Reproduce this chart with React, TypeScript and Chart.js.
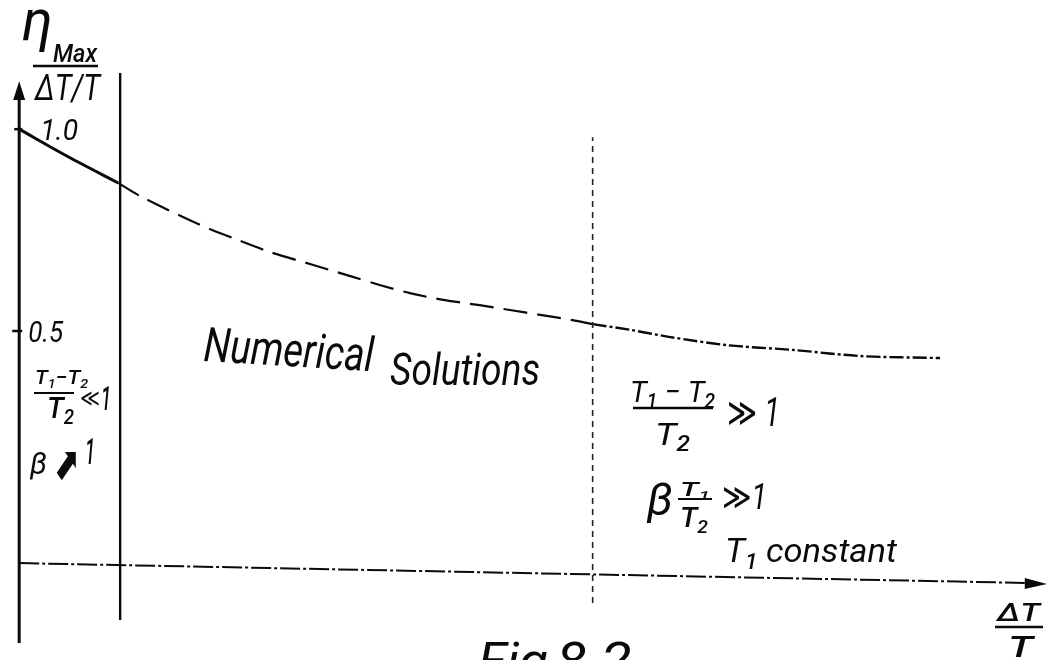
import React, { useEffect, useRef } from "react";
import { Chart, registerables } from "chart.js";

Chart.register(...registerables);

// Regime boundaries along ΔT/T
const BOUNDARY_SMALL = 1.0;
const BOUNDARY_LARGE = 5.68;

// Small temperature-difference branch (analytic, solid)
const NEAR_X = [0, 0.49, 0.98];
const NEAR_Y = [1.0, 0.931, 0.867];

// Numerical solutions (dashed)
const NUM_X = [0.98, 1.2, 1.79, 2.14, 2.48, 2.88, 3.28, 3.57, 3.87, 4.2, 4.56, 4.86, 5.16, 5.48, 5.68];
const NUM_Y = [0.867, 0.834, 0.763, 0.728, 0.696, 0.666, 0.636, 0.614, 0.594, 0.577, 0.564, 0.552, 0.54, 0.527, 0.517];

// Large temperature-difference branch (analytic, fine line)
const FAR_X = [5.68, 6.05, 6.45, 7.01, 7.67, 8.33, 9.12];
const FAR_Y = [0.517, 0.503, 0.485, 0.465, 0.453, 0.438, 0.433];

// Axis ticks
const Y_TICKS = [1.0, 0.5];
const Y_TICK_LABELS = ["1.0", "0.5"];

// Axis extents (data units)
const Y_AXIS_RANGE = [-0.273, 1.072];
const Y_ARROW_TIP = 1.119;
const X_AXIS_X = [0, 9.96];
const X_AXIS_Y = [-0.075, -0.124];
const X_ARROW_TIP = 10.18;
const SMALL_LINE_RANGE = [-0.216, 1.139];
const LARGE_LINE_RANGE = [-0.174, 0.98];

const FAMILY = 'Roboto, "DejaVu Sans", sans-serif';
const INK = "#0a0a0a";

type Part = { t: string; sub?: boolean };

function drawRich(
  ctx: CanvasRenderingContext2D,
  content: string | Part[],
  x: number,
  baseline: number,
  size: number,
  width?: number,
  angle = 0,
  weight = 400
) {
  const parts: Part[] = typeof content === "string" ? [{ t: content }] : content;
  const fontFor = (p: Part) =>
    `italic ${p.sub ? Math.max(weight, 500) : weight} ${p.sub ? size * 0.66 : size}px ${FAMILY}`;
  let total = 0;
  const widths = parts.map((p) => {
    ctx.font = fontFor(p);
    const w = ctx.measureText(p.t).width;
    total += w;
    return w;
  });
  const sx = width ? width / total : 1;
  ctx.save();
  ctx.translate(x, baseline);
  ctx.rotate(angle);
  ctx.scale(sx, 1);
  ctx.fillStyle = INK;
  ctx.textBaseline = "alphabetic";
  ctx.textAlign = "left";
  let cx = 0;
  parts.forEach((p, i) => {
    ctx.font = fontFor(p);
    ctx.fillText(p.t, cx, p.sub ? size * 0.2 : 0);
    cx += widths[i];
  });
  ctx.restore();
}

function bar(ctx: CanvasRenderingContext2D, x1: number, x2: number, y: number, lw = 2.2) {
  ctx.save();
  ctx.strokeStyle = INK;
  ctx.lineWidth = lw;
  ctx.beginPath();
  ctx.moveTo(x1, y);
  ctx.lineTo(x2, y);
  ctx.stroke();
  ctx.restore();
}

const pts = (xs: number[], ys: number[]) => xs.map((x, i) => ({ x, y: ys[i] }));

const sketchPlugin = {
  id: "sketchDecor",
  afterDatasetsDraw(chart: any) {
    const ctx: CanvasRenderingContext2D = chart.ctx;
    const xs = chart.scales.x;
    const ys = chart.scales.y;
    const ax = xs.getPixelForValue(0);

    ctx.save();
    ctx.fillStyle = INK;
    ctx.strokeStyle = INK;

    // y-axis arrow head
    const tipY = ys.getPixelForValue(Y_ARROW_TIP);
    const baseY = ys.getPixelForValue(Y_AXIS_RANGE[1]);
    ctx.beginPath();
    ctx.moveTo(ax, tipY);
    ctx.lineTo(ax + 6, baseY);
    ctx.lineTo(ax - 6, baseY);
    ctx.closePath();
    ctx.fill();

    // x-axis arrow head
    const tipX = xs.getPixelForValue(X_ARROW_TIP);
    const baseX = xs.getPixelForValue(X_AXIS_X[1]);
    const ay = ys.getPixelForValue(X_AXIS_Y[1]);
    ctx.beginPath();
    ctx.moveTo(tipX, ay + 1);
    ctx.lineTo(baseX, ay - 5);
    ctx.lineTo(baseX, ay + 6);
    ctx.closePath();
    ctx.fill();

    // y ticks and labels
    const tickLeft = [5, 7];
    const labelDx = [21, 9];
    Y_TICKS.forEach((v, i) => {
      const py = ys.getPixelForValue(v);
      ctx.lineWidth = 2.5;
      ctx.beginPath();
      ctx.moveTo(ax - tickLeft[i], py);
      ctx.lineTo(ax + 3, py);
      ctx.stroke();
      drawRich(ctx, Y_TICK_LABELS[i], ax + labelDx[i], py + 11, 30, i === 0 ? 38 : 35);
    });
    ctx.restore();

    // y-axis title: η_Max / (ΔT/T)
    drawRich(ctx, "η", 22, 40, 58, 31);
    drawRich(ctx, "Max", 53, 62, 26, 44, 0, 500);
    bar(ctx, 33, 98, 66, 2.6);
    drawRich(ctx, "ΔT/T", 35, 100, 37, 65);

    // small-difference regime
    drawRich(ctx, [{ t: "T" }, { t: "1", sub: true }, { t: "−" }, { t: "T" }, { t: "2", sub: true }], 35, 384, 20, 53, 0, 500);
    bar(ctx, 34, 74, 393, 2.2);
    drawRich(ctx, [{ t: "T" }, { t: "2", sub: true }], 47, 418, 30, 27, 0, 500);
    drawRich(ctx, "≪", 80, 406, 24, 20, 0, 500);
    drawRich(ctx, "1", 101, 410, 34, 10, 0, 500);
    drawRich(ctx, "β", 30, 474, 32, 17);
    drawRich(ctx, "⬈", 54, 479, 46, 26, 0, 400);
    drawRich(ctx, "1", 85, 464, 36, 10, 0, 500);

    // numerical region label
    drawRich(ctx, "Numerical", 203, 361, 48, 170, 0.06);
    drawRich(ctx, "Solutions", 390, 385, 44, 150);

    // large-difference regime
    drawRich(ctx, [{ t: "T" }, { t: "1", sub: true }, { t: " − " }, { t: "T" }, { t: "2", sub: true }], 630, 402, 30, 85);
    bar(ctx, 633, 713, 408, 2.4);
    drawRich(ctx, [{ t: "T" }, { t: "2", sub: true }], 655, 445, 32, 35);
    drawRich(ctx, "≫ 1", 727, 426, 40, 53);
    drawRich(ctx, "β", 647, 515, 44, 26);
    drawRich(ctx, [{ t: "T" }, { t: "1", sub: true }], 680, 496, 20, 30, 0, 500);
    bar(ctx, 678, 712, 499, 2.2);
    drawRich(ctx, [{ t: "T" }, { t: "2", sub: true }], 680, 527, 28, 28, 0, 500);
    drawRich(ctx, "≫1", 722, 509, 36, 45);
    drawRich(ctx, [{ t: "T" }, { t: "1", sub: true }, { t: " constant" }], 725, 562, 34, 172);

    // x-axis title ΔT / T
    drawRich(ctx, "ΔT", 997, 621, 26, 43, 0, 500);
    bar(ctx, 995, 1043, 627, 2.4);
    drawRich(ctx, "T", 1008, 657, 30, 25, 0, 500);

    // figure caption
    drawRich(ctx, "Fig", 478, 678, 50, 70);
    drawRich(ctx, "8.2.", 556, 678, 50, 90);
  },
};

export default function App() {
  const canvasRef = useRef<HTMLCanvasElement | null>(null);

  useEffect(() => {
    if (!canvasRef.current) return;
    const line = (data: any[], width: number, dash: number[] = [], extra: any = {}) => ({
      data,
      showLine: true,
      borderColor: INK,
      borderWidth: width,
      borderDash: dash,
      pointRadius: 0,
      pointHoverRadius: 0,
      fill: false,
      tension: 0,
      borderCapStyle: "butt",
      ...extra,
    });

    const chart = new Chart(canvasRef.current, {
      type: "scatter",
      data: {
        datasets: [
          // y axis
          line([{ x: 0, y: Y_AXIS_RANGE[0] }, { x: 0, y: Y_AXIS_RANGE[1] }], 3),
          // x axis
          line(pts(X_AXIS_X, X_AXIS_Y), 2, [20, 3, 3, 3]),
          // regime boundaries
          line([{ x: BOUNDARY_SMALL, y: SMALL_LINE_RANGE[0] }, { x: BOUNDARY_SMALL, y: SMALL_LINE_RANGE[1] }], 2.4),
          line([{ x: BOUNDARY_LARGE, y: LARGE_LINE_RANGE[0] }, { x: BOUNDARY_LARGE, y: LARGE_LINE_RANGE[1] }], 1.6, [6, 5], { borderColor: "#222" }),
          // efficiency curves
          line(pts(NEAR_X, NEAR_Y), 3, [], { tension: 0.3 }),
          line(pts(NUM_X, NUM_Y), 2.2, [24, 10], { tension: 0.3 }),
          line(pts(FAR_X, FAR_Y), 2.4, [14, 3, 3, 3], { tension: 0.3 }),
        ],
      },
      options: {
        animation: false,
        responsive: false,
        maintainAspectRatio: false,
        events: [],
        layout: { padding: 0 },
        plugins: { legend: { display: false }, tooltip: { enabled: false } },
        scales: {
          x: { type: "linear", min: -0.19, max: 10.2, display: false },
          y: { type: "linear", min: -0.315, max: 1.32, display: false },
        },
      },
      plugins: [sketchPlugin],
    });
    return () => chart.destroy();
  }, []);

  return (
    <div style={{ position: "fixed", left: 0, top: 0, width: 1049, height: 660, background: "#fff" }}>
      <canvas ref={canvasRef} width={1049} height={660} style={{ display: "block" }} />
    </div>
  );
}
